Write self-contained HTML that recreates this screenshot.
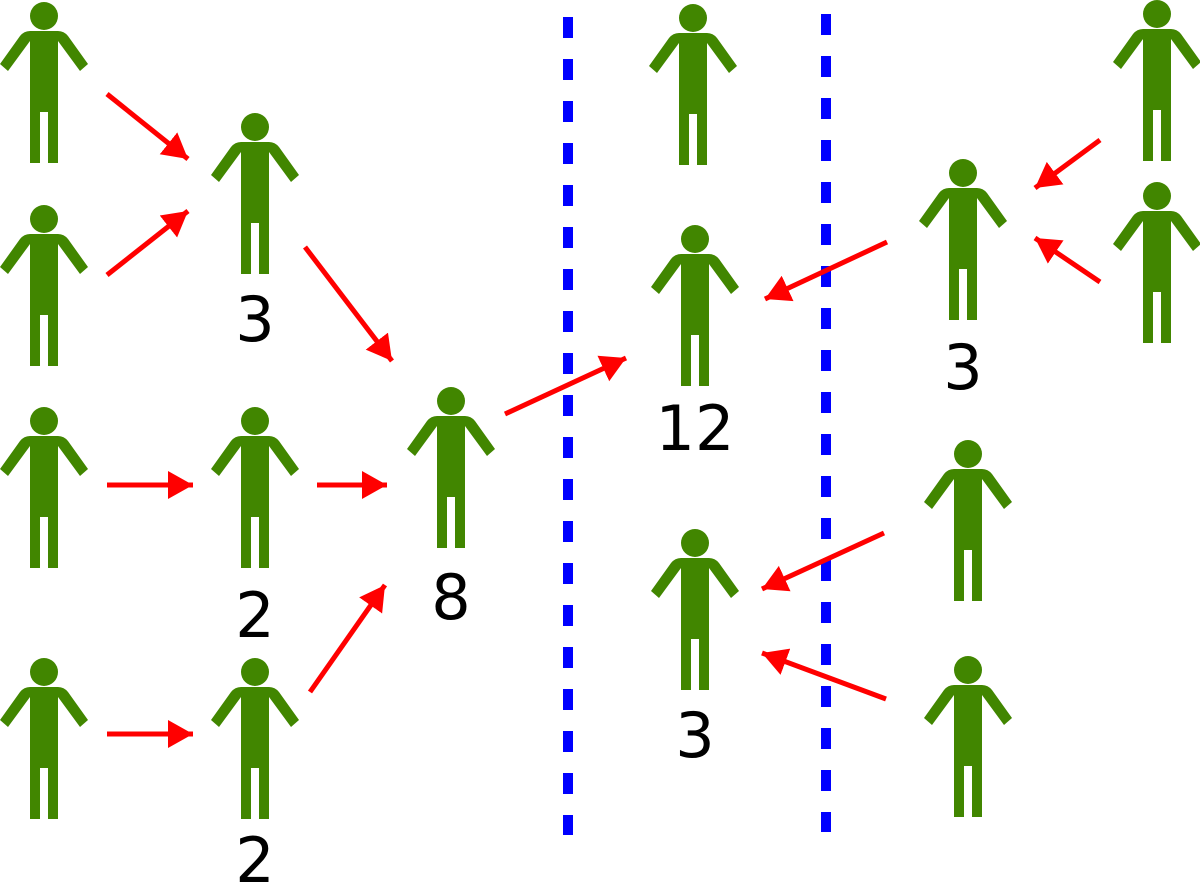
<!DOCTYPE html>
<html><head><style>body{margin:0;background:#fff}svg{display:block}</style></head><body>
<svg width="1200" height="885" viewBox="0 0 1200 885" xmlns="http://www.w3.org/2000/svg">
<defs>
<g id="p" fill="#418600">
<circle cx="0" cy="0" r="14"/>
<path d="M-14 15 H14 Q20 15 24 20 L44 48 L36 55 L14 25 V96 H-14 V25 L-36 55 L-44 48 L-24 20 Q-20 15 -14 15Z"/>
<rect x="-14" y="92" width="10" height="55"/>
<rect x="4" y="92" width="10" height="55"/>
</g>
<marker id="a" markerWidth="6" markerHeight="6" refX="5" refY="3" orient="auto" markerUnits="strokeWidth"><path d="M0,0.2 L5,3 L0,5.8Z" fill="#f00"/></marker>
</defs>
<g stroke="#00f" stroke-width="10" stroke-dasharray="21 21">
<line x1="568" y1="17" x2="568" y2="835"/>
<line x1="826" y1="14" x2="826" y2="832"/>
</g>
<use href="#p" x="44" y="16"/><use href="#p" x="44" y="219"/><use href="#p" x="44" y="421"/><use href="#p" x="44" y="672"/>
<use href="#p" x="255" y="127"/><use href="#p" x="255" y="421"/><use href="#p" x="255" y="672"/>
<use href="#p" x="451" y="401"/>
<use href="#p" x="693" y="18"/><use href="#p" x="695" y="239"/><use href="#p" x="695" y="543"/>
<use href="#p" x="963" y="173"/><use href="#p" x="1157" y="14"/><use href="#p" x="1157" y="196"/>
<use href="#p" x="968" y="454"/><use href="#p" x="968" y="670"/>
<g stroke="#f00" stroke-width="5" marker-end="url(#a)">
<line x1="107" y1="94" x2="188" y2="159"/>
<line x1="107" y1="275" x2="188" y2="211"/>
<line x1="305" y1="247" x2="392" y2="361"/>
<line x1="107" y1="485" x2="193" y2="485"/>
<line x1="317" y1="485" x2="387" y2="485"/>
<line x1="107" y1="734" x2="193" y2="734"/>
<line x1="310" y1="692" x2="385" y2="585"/>
<line x1="505" y1="414" x2="626" y2="358"/>
<line x1="887" y1="242" x2="765" y2="299"/>
<line x1="1100" y1="140" x2="1035" y2="188"/>
<line x1="1100" y1="282" x2="1035" y2="238"/>
<line x1="884" y1="533" x2="762" y2="589"/>
<line x1="886" y1="699" x2="762" y2="653"/>
</g>
<g font-family="DejaVu Sans, Liberation Sans, sans-serif" font-size="62" text-anchor="middle" fill="#000">
<text x="255" y="341">3</text><text x="255" y="637">2</text><text x="255" y="882">2</text>
<text x="451" y="619">8</text><text x="695" y="450">12</text><text x="695" y="757">3</text>
<text x="963" y="389">3</text>
</g>
</svg>
</body></html>
